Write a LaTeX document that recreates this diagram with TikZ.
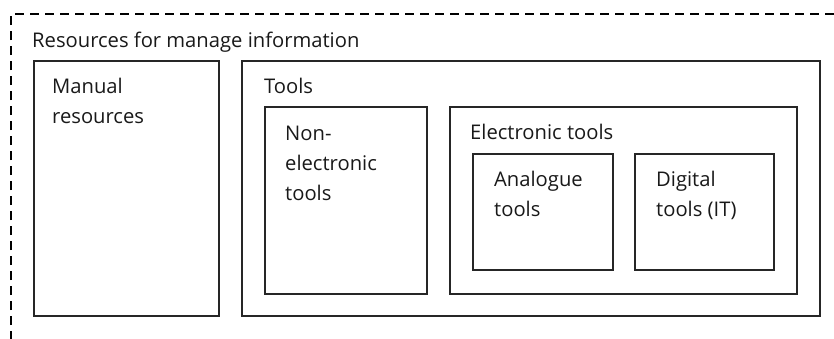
\documentclass[tikz,border=0pt]{standalone}
\usepackage{fontspec}
\setmainfont{Open Sans}
\begin{document}
\begin{tikzpicture}[x=1pt,y=-1pt,
  box/.style={draw=black!85, line width=1.3pt, anchor=north west, inner sep=0pt, outer sep=0pt},
  lbl/.style={anchor=base west, inner sep=0pt, align=left, font=\fontsize{20.2}{30}\selectfont, text=black!90}]
\useasboundingbox (0,0) rectangle (834,338);
\coordinate (dbl) at (11,340);
\coordinate (dtl) at (11,14);
\coordinate (dtr) at (836,14);
\draw[line width=1.4pt, dash pattern=on 9pt off 6pt] (dbl) -- (dtl) -- (dtr);
\node[lbl] (restxt) at (32,47) {Resources for manage information};
\node[box, minimum width=185pt, minimum height=255pt] (manual) at (34,61) {};
\node[lbl] (mantxt) at (52,123) {Manual\\resources};
\node[box, minimum width=578pt, minimum height=255pt] (tools) at (242,61) {};
\node[lbl] (tooltxt) at (264,93) {Tools};
\node[box, minimum width=162pt, minimum height=187pt] (nonel) at (265,107) {};
\node[lbl] (noneltxt) at (285,200) {Non-\\electronic\\tools};
\node[box, minimum width=347pt, minimum height=187pt] (elec) at (450,107) {};
\node[lbl] (electxt) at (470,139) {Electronic tools};
\node[box, minimum width=140pt, minimum height=116pt] (analog) at (473,154) {};
\node[lbl] (analogtxt) at (494,216) {Analogue\\tools};
\node[box, minimum width=139pt, minimum height=116pt] (digital) at (635,154) {};
\node[lbl] (digitaltxt) at (656,216) {Digital\\tools (IT)};
\end{tikzpicture}
\end{document}
